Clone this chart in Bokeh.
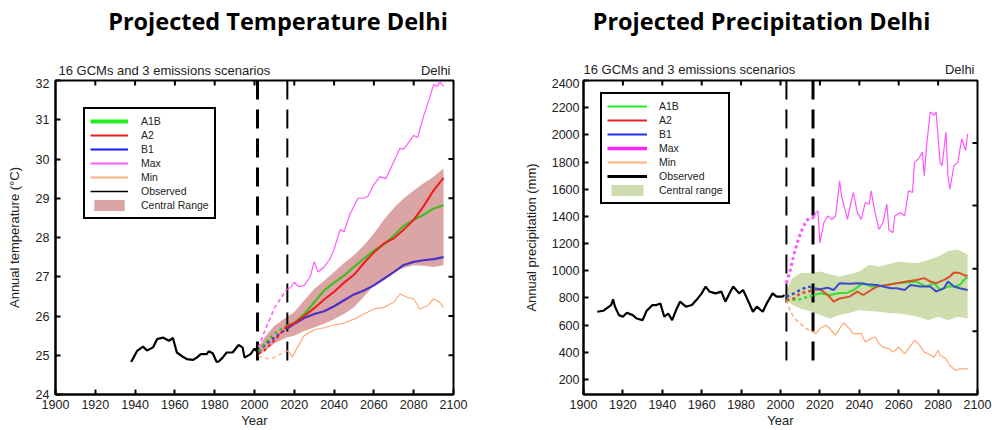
import numpy as np
from bokeh.plotting import figure
from bokeh.layouts import row, column
from bokeh.models import Range1d, FixedTicker, Legend, LegendItem
from bokeh.core.properties import value
from bokeh.embed import file_html
from bokeh.resources import INLINE

# ---------------- Temperature data ----------------
temp_x_ticks = list(range(1900, 2101, 20))
temp_y_ticks = list(range(24, 33))
temp_vlines = [2001.5, 2016.5]
temp_vline_widths = [3, 2]
temp_split = 2016

obs_t_years = [1938, 1939, 1941, 1944, 1946, 1949, 1951, 1954, 1957, 1959, 1961, 1964, 1966, 1969,
               1971, 1973, 1976, 1977, 1979, 1981, 1982, 1984, 1986, 1989, 1992, 1994, 1995, 1998,
               2000, 2001]
obs_t = [24.83, 24.92, 25.11, 25.22, 25.12, 25.2, 25.41, 25.45, 25.37, 25.44, 25.07, 24.96, 24.9,
         24.88, 24.94, 25.03, 25.03, 25.1, 25.05, 24.83, 24.84, 24.94, 25.07, 25.07, 25.26, 25.2,
         24.94, 25.03, 25.17, 25.11]

proj_t_years = [2002, 2005, 2010, 2016, 2020, 2025, 2030, 2035, 2040, 2045, 2050, 2055, 2060,
                2065, 2070, 2075, 2080, 2085, 2090, 2095]
a1b_t = [25.1, 25.3, 25.55, 25.75, 25.82, 26.05, 26.35, 26.65, 26.85, 27.03, 27.25, 27.46, 27.67,
         27.82, 28.05, 28.3, 28.45, 28.58, 28.74, 28.82]
a2_t = [25.05, 25.12, 25.38, 25.72, 25.82, 26.0, 26.2, 26.42, 26.62, 26.85, 27.05, 27.35, 27.62,
        27.85, 27.98, 28.2, 28.45, 28.8, 29.2, 29.52]
b1_t = [25.1, 25.25, 25.45, 25.67, 25.8, 25.95, 26.05, 26.12, 26.25, 26.4, 26.55, 26.65, 26.78,
        26.95, 27.12, 27.3, 27.38, 27.42, 27.45, 27.5]
band_t_upper = [25.2, 25.45, 25.75, 25.97, 26.1, 26.4, 26.69, 26.9, 27.12, 27.35, 27.55, 27.8,
                28.1, 28.45, 28.75, 29.0, 29.2, 29.38, 29.55, 29.76]
band_t_lower = [25.0, 25.1, 25.3, 25.45, 25.5, 25.62, 25.71, 25.8, 25.92, 26.05, 26.22, 26.5,
                26.78, 26.95, 27.12, 27.22, 27.29, 27.28, 27.25, 27.29]

max_t_years = [2002, 2005, 2010, 2016, 2018, 2020, 2022, 2025, 2028, 2030, 2032, 2035, 2038, 2040,
               2043, 2045, 2048, 2052, 2055, 2057, 2060, 2063, 2066, 2070, 2073, 2075, 2080, 2082,
               2085, 2088, 2090, 2092, 2093, 2095]
max_t = [25.2, 25.6, 26.2, 26.67, 26.72, 26.86, 26.75, 26.78, 27.0, 27.38, 27.12, 27.25, 27.46,
         27.7, 28.2, 28.15, 28.6, 29.0, 29.0, 29.05, 29.35, 29.55, 29.5, 29.93, 30.27, 30.25, 30.6,
         30.55, 31.1, 31.55, 31.9, 31.85, 31.97, 31.85]
min_t_years = [2002, 2005, 2008, 2012, 2016, 2017, 2019, 2021, 2025, 2030, 2035, 2040, 2045, 2050,
               2055, 2060, 2065, 2070, 2073, 2077, 2080, 2083, 2087, 2090, 2093, 2095]
min_t = [24.97, 24.93, 24.9, 25.0, 25.1, 25.11, 24.95, 25.15, 25.5, 25.65, 25.7, 25.77, 25.82,
         25.92, 26.05, 26.18, 26.22, 26.35, 26.56, 26.47, 26.44, 26.18, 26.26, 26.44, 26.35, 26.22]

# ---------------- Precipitation data ----------------
prec_x_ticks = list(range(1900, 2101, 20))
prec_y_ticks = list(range(200, 2401, 200))
prec_right_ticks = [556, 1015, 1481, 1941]
prec_vlines = [2003, 2016.5]
prec_vline_widths = [2, 3]
prec_split = 2017

obs_p_years = [1907, 1910, 1914, 1915, 1916, 1918, 1920, 1922, 1925, 1927, 1930, 1932, 1935, 1937,
               1939, 1941, 1943, 1945, 1947, 1949, 1952, 1955, 1958, 1960, 1962, 1964, 1967, 1970,
               1972, 1975, 1976, 1979, 1981, 1983, 1986, 1988, 1991, 1993, 1996, 1998, 2001, 2002]
obs_p = [699, 706, 748, 790, 736, 674, 662, 691, 674, 649, 637, 704, 748, 748, 760, 662, 686, 637,
         711, 773, 736, 748, 797, 834, 884, 847, 834, 847, 773, 859, 884, 834, 859, 797, 699, 736,
         699, 760, 834, 810, 810, 822]

b1_p_years = [2003, 2007, 2010, 2014, 2017, 2020, 2024, 2027, 2030, 2035, 2040, 2044, 2049, 2052,
              2056, 2059, 2063, 2066, 2071, 2076, 2079, 2083, 2085, 2088, 2091, 2095]
b1_p = [810, 834, 859, 884, 872, 864, 876, 859, 909, 904, 909, 901, 896, 884, 872, 872, 859, 896,
        884, 884, 847, 872, 921, 884, 872, 859]
a2_p_years = [2003, 2007, 2010, 2014, 2017, 2020, 2024, 2027, 2030, 2035, 2039, 2042, 2046, 2049,
              2054, 2059, 2064, 2069, 2073, 2076, 2079, 2083, 2086, 2088, 2091, 2094, 2095]
a2_p = [785, 797, 834, 847, 859, 864, 822, 773, 797, 810, 847, 822, 859, 884, 896, 909, 921, 933,
        946, 921, 909, 933, 958, 988, 983, 963, 965]
a1b_p_years = [2003, 2010, 2014, 2017, 2020, 2025, 2029, 2034, 2037, 2042, 2046, 2051, 2054, 2059,
               2064, 2069, 2074, 2078, 2081, 2085, 2088, 2091, 2094, 2095]
a1b_p = [785, 790, 810, 822, 834, 822, 834, 839, 859, 909, 884, 889, 896, 909, 914, 921, 884, 909,
         859, 884, 884, 896, 946, 950]
max_p_years = [2003, 2005, 2007, 2008, 2009, 2011, 2013, 2015, 2017, 2018, 2019, 2020, 2022, 2024,
               2026, 2028, 2030, 2031, 2034, 2035, 2037, 2039, 2041, 2043, 2045, 2046, 2048, 2050,
               2052, 2054, 2055, 2057, 2058, 2061, 2063, 2065, 2067, 2068, 2070, 2072, 2073, 2074,
               2076, 2078, 2079, 2081, 2082, 2084, 2085, 2086, 2088, 2090, 2092, 2094, 2095]
max_p = [909, 1007, 1131, 1180, 1230, 1304, 1366, 1391, 1391, 1428, 1440, 1205, 1354, 1403, 1378,
         1403, 1662, 1551, 1378, 1452, 1576, 1428, 1378, 1502, 1490, 1588, 1428, 1304, 1354, 1490,
         1304, 1280, 1403, 1428, 1403, 1588, 1576, 1798, 1823, 1872, 1699, 1897, 2168, 2144, 2168,
         1798, 1773, 2020, 1699, 1600, 1773, 1798, 1971, 1884, 2008]
min_p_years = [2003, 2005, 2008, 2013, 2017, 2018, 2020, 2023, 2025, 2028, 2030, 2032, 2035, 2037,
               2041, 2043, 2046, 2048, 2050, 2052, 2055, 2057, 2060, 2063, 2065, 2068, 2070, 2073,
               2075, 2078, 2080, 2081, 2084, 2086, 2089, 2091, 2095]
min_p = [785, 699, 637, 575, 545, 538, 575, 600, 575, 526, 575, 617, 575, 538, 538, 476, 501, 513,
         464, 439, 427, 402, 439, 390, 427, 489, 464, 402, 390, 365, 415, 378, 353, 303, 266, 279,
         279]
band_p_years = [2003, 2006, 2010, 2016, 2020, 2025, 2030, 2035, 2040, 2045, 2050, 2055, 2060, 2065,
                2070, 2075, 2080, 2085, 2090, 2095]
band_p_upper = [860, 946, 983, 983, 995, 975, 958, 975, 995, 1044, 1032, 1050, 1069, 1060, 1057,
                1080, 1106, 1143, 1156, 1119]
band_p_lower = [780, 750, 723, 699, 674, 649, 674, 690, 711, 705, 699, 690, 686, 675, 662, 637,
                662, 637, 662, 649]

FONT = "Liberation Sans"
HEADER_H = 78
FIG_W = 496
MAIN_H = 352


def header(xr, bl, br, title, title_dx, sub_dx, sub_y, del_dx):
    h = figure(width=FIG_W, height=HEADER_H, x_range=xr, y_range=Range1d(0, HEADER_H),
               output_backend="svg", toolbar_location=None, title=None,
               x_axis_location=None, y_axis_location=None,
               min_border_left=bl, min_border_right=br, min_border_top=0, min_border_bottom=0)
    h.xgrid.visible = False
    h.ygrid.visible = False
    h.outline_line_color = None
    h.background_fill_color = "white"
    h.border_fill_color = "white"
    xmid = (xr.start + xr.end) / 2
    h.text(x=[xmid], y=[HEADER_H - 20], text=[title], text_align="center",
           text_baseline="alphabetic", x_offset=title_dx, text_font=value("Open Sans"),
           text_font_style="bold", text_font_size="23.5px", text_color="black")
    h.text(x=[xr.start], y=[sub_y], text=["16 GCMs and 3 emissions scenarios"],
           text_align="left", text_baseline="alphabetic", x_offset=sub_dx,
           text_font=value(FONT), text_font_size="13px", text_color="#222222")
    h.text(x=[xr.end], y=[sub_y], text=["Delhi"], text_align="right",
           text_baseline="alphabetic", x_offset=del_dx,
           text_font=value(FONT), text_font_size="13px", text_color="#222222")
    return h


def main_fig(xr, yr, xt, yt, rt, bl, br, std, lab_std, ylabel):
    p = figure(width=FIG_W, height=MAIN_H, x_range=xr, y_range=yr,
               output_backend="svg", toolbar_location=None, title=None,
               min_border_left=bl, min_border_right=br, min_border_top=2, min_border_bottom=36)
    p.xgrid.visible = False
    p.ygrid.visible = False
    p.outline_line_color = "black"
    p.outline_line_width = 2
    p.background_fill_color = "white"
    p.border_fill_color = "white"
    p.xaxis.ticker = FixedTicker(ticks=xt)
    p.yaxis.ticker = FixedTicker(ticks=yt)
    for ax in (p.xaxis[0], p.yaxis[0]):
        ax.major_tick_in = 5
        ax.major_tick_out = 0
        ax.minor_tick_line_color = None
        ax.axis_line_width = 2
        ax.axis_line_color = "black"
        ax.major_tick_line_width = 2
        ax.major_label_text_font = FONT
        ax.major_label_text_font_size = "12.5px"
        ax.major_label_text_color = "#222222"
        ax.axis_label_text_font = FONT
        ax.axis_label_text_font_size = "13px"
        ax.axis_label_text_font_style = "normal"
        ax.axis_label_text_color = "#222222"
    p.yaxis.major_label_standoff = std
    p.yaxis.axis_label = ylabel
    p.yaxis.axis_label_standoff = lab_std
    p.xaxis.major_label_standoff = 5
    p.xaxis.axis_label = "Year"
    p.xaxis.axis_label_standoff = 1
    # inward tick marks along the top and right edges of the frame
    p.ray(x=xt[1:-1], y=[yr.end] * (len(xt) - 2), length=5, length_units="screen",
          angle=-np.pi / 2, line_color="black", line_width=2)
    p.ray(x=[xr.end] * len(rt), y=rt, length=5, length_units="screen",
          angle=np.pi, line_color="black", line_width=2)
    return p


def proj(p, years, vals, split, color, width, dash, dwidth=None):
    yrs = np.array(years, dtype=float)
    v = np.array(vals, dtype=float)
    a = yrs <= split
    b = yrs >= split
    p.line(yrs[a], v[a], line_color=color, line_width=dwidth or width, line_dash=dash)
    p.line(yrs[b], v[b], line_color=color, line_width=width)


def make_legend(p, entries, loc, gw, std, pad, band_item):
    items = []
    for name, color, w in entries:
        r = p.line(x=[np.nan], y=[np.nan], line_color=color, line_width=w)
        items.append(LegendItem(label=name, renderers=[r]))
    items.append(band_item)
    leg = Legend(items=items, location=loc, glyph_width=gw, glyph_height=14, label_height=14,
                 spacing=0, padding=pad, margin=0, label_standoff=std,
                 label_text_font=FONT, label_text_font_size="10.5px",
                 label_text_color="#222222", border_line_color="black", border_line_width=2,
                 border_line_alpha=1.0, background_fill_color="white",
                 background_fill_alpha=1.0)
    p.add_layout(leg)


# ---------------- Left: temperature ----------------
xr1 = Range1d(1900, 2100)
yr1 = Range1d(24, 32)
h1 = header(xr1, 55, 43, "Projected Temperature Delhi", 23.5, 3, 8, -3)
p1 = main_fig(xr1, yr1, temp_x_ticks, temp_y_ticks, temp_y_ticks[1:-1], 55, 43, 6, 11,
              "Annual temperature (\u00b0C)")

band1 = p1.varea(x=proj_t_years, y1=band_t_lower, y2=band_t_upper, fill_color="#dba5a5",
                 fill_alpha=1.0)
p1.segment(x0=temp_vlines, y0=[32] * 2, x1=temp_vlines, y1=[24.67] * 2,
           line_color="black", line_width=temp_vline_widths, line_dash="19 10")
proj(p1, min_t_years, min_t, temp_split, "#ffaa78", 1.2, "4 3")
proj(p1, max_t_years, max_t, temp_split, "#ff5cff", 1.2, "4 3", 1.6)
proj(p1, proj_t_years, b1_t, temp_split, "#4b30c4", 2.2, "3 3")
proj(p1, proj_t_years, a1b_t, temp_split, "#44bb22", 2.2, "3 3")
proj(p1, proj_t_years, a2_t, temp_split, "#ee1c1c", 2.0, "3 3")
p1.line(obs_t_years, obs_t, line_color="black", line_width=2.2)

make_legend(p1, [("A1B", "#22ee22", 4), ("A2", "#ee1c1c", 2), ("B1", "#1a1aff", 2),
                 ("Max", "#ff5cff", 2), ("Min", "#ffb080", 2), ("Observed", "black", 1.5)],
            (28, 175), 38, 13, 5, LegendItem(label="Central Range", renderers=[band1]))

# ---------------- Right: precipitation ----------------
xr2 = Range1d(1900, 2100)
yr2 = Range1d(90, 2400)
h2 = header(xr2, 87, 15, "Projected Precipitation Delhi", -19, 0, 9, -3)
p2 = main_fig(xr2, yr2, prec_x_ticks, prec_y_ticks, prec_right_ticks, 87, 15, 4, 10,
              "Annual precipitation (mm)")

band2 = p2.varea(x=band_p_years, y1=band_p_lower, y2=band_p_upper, fill_color="#cfdcae",
                 fill_alpha=1.0)
p2.segment(x0=prec_vlines, y0=[2400] * 2, x1=prec_vlines, y1=[290] * 2,
           line_color="black", line_width=prec_vline_widths, line_dash="19 10")
proj(p2, min_p_years, min_p, prec_split, "#ffa878", 1.2, "4 3", 1.6)
proj(p2, max_p_years, max_p, prec_split, "#ff55ff", 1.2, "3 3", 3)
proj(p2, a1b_p_years, a1b_p, prec_split, "#33dd33", 2.0, "3 3", 2.5)
proj(p2, a2_p_years, a2_p, prec_split, "#d8502c", 2.0, "3 3", 2.5)
proj(p2, b1_p_years, b1_p, prec_split, "#3a4ccc", 2.0, "3 3", 2.5)
p2.line(obs_p_years, obs_p, line_color="black", line_width=2.2)

make_legend(p2, [("A1B", "#22ee22", 2), ("A2", "#ee2222", 2), ("B1", "#2233ee", 2),
                 ("Max", "#ff22ff", 3.5), ("Min", "#ffb080", 2), ("Observed", "black", 3)],
            (17, 190), 40, 12, 5, LegendItem(label="Central range", renderers=[band2]))

layout = row(column(h1, p1), column(h2, p2))
open("out.html", "w").write(file_html(layout, INLINE))
